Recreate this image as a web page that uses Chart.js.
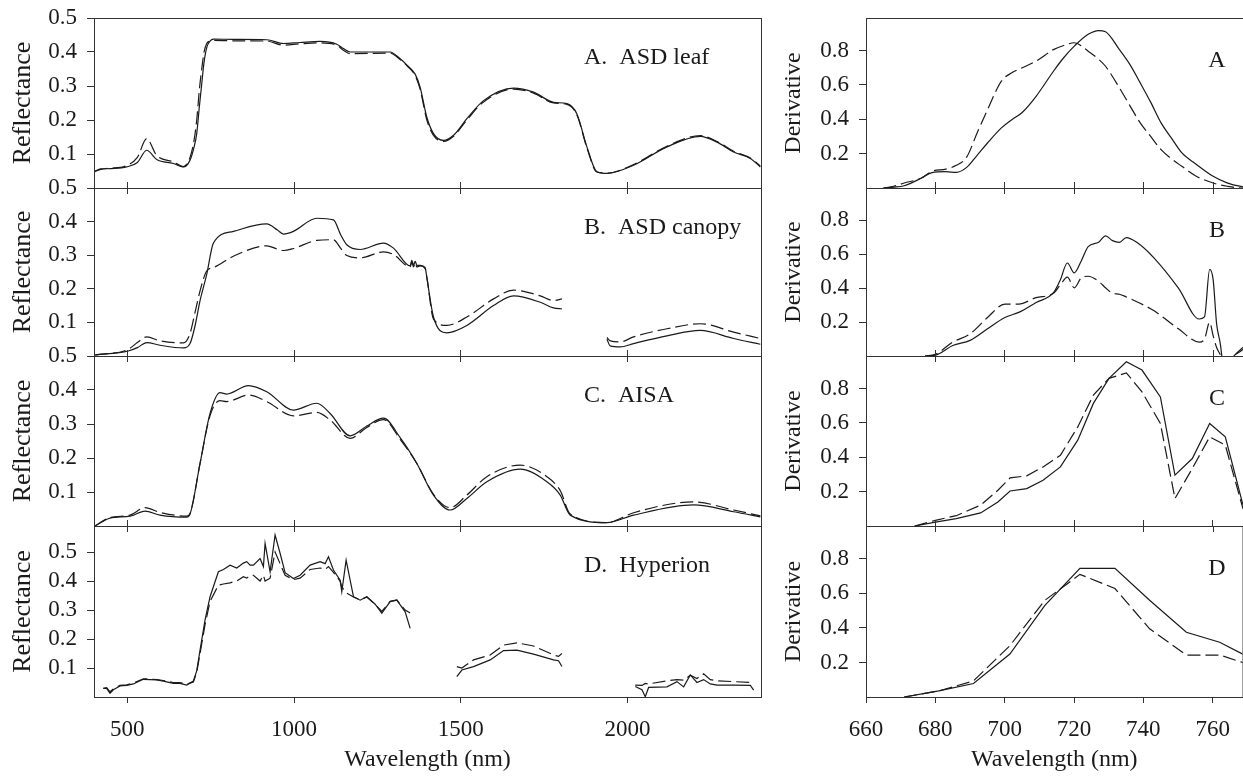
<!DOCTYPE html>
<html>
<head>
<meta charset="utf-8">
<title>Reflectance and red-edge derivative spectra</title>
<script src="https://cdn.jsdelivr.net/npm/chart.js@4.4.0/dist/chart.umd.min.js"></script>
<style>
    html, body { margin: 0; padding: 0; background: #fff; overflow: hidden; }
    #page { position: relative; width: 1243px; height: 776px; }
    #page canvas { position: absolute; }
</style>
</head>
<body>
<div id="page"></div>
<script>
// ---- left column: reflectance spectra (wavelength in nm) ----
const leafWl = [403, 420, 448, 498, 530, 558, 588, 638, 668, 688, 700, 708, 716, 723, 730, 738, 748, 758, 818, 918,
    968, 1018, 1078, 1128, 1148, 1168, 1288, 1318, 1340, 1363, 1378, 1398, 1418, 1448, 1478, 1518, 1568, 1658, 1718, 1778,
    1818, 1848, 1878, 1908, 1938, 2018, 2118, 2218, 2268, 2318, 2368, 2398];
const leafSolid = [0.048, 0.055, 0.057, 0.062, 0.075, 0.111, 0.084, 0.072, 0.062, 0.082, 0.12, 0.16, 0.24, 0.306, 0.37,
    0.413, 0.432, 0.438, 0.437, 0.436, 0.425, 0.428, 0.431, 0.423, 0.41, 0.40, 0.40, 0.38, 0.36, 0.335,
    0.296, 0.208, 0.16, 0.14, 0.155, 0.204, 0.257, 0.294, 0.282, 0.252, 0.248, 0.218, 0.121, 0.048, 0.043,
    0.067, 0.121, 0.152, 0.135, 0.106, 0.087, 0.062];
const leafDashed = [0.05, 0.056, 0.058, 0.066, 0.09, 0.145, 0.096, 0.077, 0.063, 0.09, 0.14, 0.2, 0.29, 0.35, 0.4,
    0.425, 0.432, 0.434, 0.433, 0.432, 0.42, 0.424, 0.427, 0.42, 0.405, 0.395, 0.397, 0.378, 0.358, 0.33,
    0.29, 0.2, 0.155, 0.137, 0.152, 0.2, 0.253, 0.291, 0.279, 0.25, 0.246, 0.215, 0.118, 0.047, 0.044,
    0.069, 0.123, 0.154, 0.137, 0.108, 0.088, 0.065];

const canopyWl = [403, 503, 530, 558, 598, 668, 688, 703, 718, 738, 758, 818, 918, 950, 968, 998, 1068, 1118, 1140, 1158,
    1198, 1268, 1298, 1348, 1353, 1358, 1363, 1368, 1378, 1393, 1398, 1418, 1458, 1518, 1598, 1658, 1738, 1778, 1803, 1870,
    1938, 1948, 1978, 2018, 2118, 2218, 2318, 2398];
const canopySolid = [0.003, 0.015, 0.025, 0.04, 0.032, 0.024, 0.037, 0.09, 0.165, 0.243, 0.336, 0.371, 0.393, 0.375, 0.363,
    0.371, 0.41, 0.405, 0.36, 0.331, 0.317, 0.336, 0.321, 0.268, 0.285, 0.27, 0.282, 0.27, 0.27, 0.263,
    0.233, 0.116, 0.069, 0.091, 0.15, 0.179, 0.16, 0.143, 0.14, null, 0.05, 0.03, 0.027, 0.037, 0.06,
    0.076, 0.052, 0.035];
const canopyDashed = [0.003, 0.02, 0.04, 0.057, 0.045, 0.039, 0.067, 0.13, 0.194, 0.253, 0.263, 0.297, 0.328, 0.318, 0.314,
    0.32, 0.344, 0.346, 0.32, 0.299, 0.292, 0.31, 0.302, 0.265, 0.28, 0.265, 0.278, 0.265, 0.268, 0.26,
    0.235, 0.11, 0.091, 0.116, 0.17, 0.196, 0.179, 0.165, 0.17, null, 0.055, 0.045, 0.042, 0.057, 0.081,
    0.096, 0.071, 0.052];

const aisaWl = [403, 448, 508, 553, 598, 678, 688, 718, 748, 778, 798, 863, 918, 998, 1068, 1108, 1168, 1218, 1268, 1318,
    1368, 1418, 1468, 1518, 1578, 1678, 1758, 1798, 1828, 1938, 2018, 2198, 2318, 2398];
const aisaSolid = [0, 0.023, 0.029, 0.044, 0.032, 0.026, 0.035, 0.184, 0.331, 0.392, 0.388, 0.413, 0.395, 0.341, 0.361,
    0.331, 0.265, 0.294, 0.317, 0.26, 0.184, 0.091, 0.047, 0.081, 0.13, 0.167, 0.13, 0.091, 0.032, 0.01,
    0.032, 0.062, 0.042, 0.027];
const aisaDashed = [0, 0.025, 0.032, 0.054, 0.04, 0.029, 0.037, 0.184, 0.325, 0.369, 0.366, 0.385, 0.366, 0.324, 0.334,
    0.312, 0.258, 0.29, 0.313, 0.255, 0.184, 0.093, 0.054, 0.091, 0.145, 0.179, 0.145, 0.104, 0.035, 0.01,
    0.039, 0.071, 0.047, 0.03];

const hypWl = [428, 438, 448, 458, 478, 498, 518, 548, 568, 588, 608, 638, 658, 678, 698, 708, 718, 733, 748, 773,
    788, 808, 828, 848, 858, 868, 878, 898, 908, 913, 928, 943, 958, 973, 998, 1018, 1048, 1078, 1093, 1103,
    1118, 1138, 1143, 1156, 1178, 1198, 1218, 1243, 1263, 1288, 1308, 1333, 1348, 1420,
    1488, 1503, 1538, 1588, 1628, 1668, 1718, 1778, 1793, 1803, 1900,
    2023, 2043, 2053, 2063, 2118, 2148, 2168, 2188, 2208, 2228, 2248, 2268, 2318, 2368, 2378];
const hypSolid = [0.03, 0.03, 0.013, 0.025, 0.038, 0.04, 0.045, 0.061, 0.06, 0.059, 0.055, 0.047, 0.047, 0.041, 0.055,
    0.09, 0.162, 0.266, 0.346, 0.432, 0.44, 0.455, 0.445, 0.462, 0.467, 0.455, 0.455, 0.478, 0.45, 0.53,
    0.432, 0.559, 0.496, 0.429, 0.409, 0.42, 0.455, 0.467, 0.46, 0.484, 0.438, 0.403, 0.363, 0.472, 0.346,
    0.334, 0.346, 0.32, 0.289, 0.329, 0.334, 0.294, 0.237, null,
    0.07, 0.093, 0.105, 0.128, 0.16, 0.162, 0.148, 0.128, 0.125, 0.105, null,
    0.036, 0.025, 0.001, 0.033, 0.035, 0.053, 0.035, 0.076, 0.05, 0.06, 0.045, 0.041, 0.041, 0.04, 0.024];
const hypDashed = [0.03, 0.032, 0.018, 0.028, 0.04, 0.042, 0.048, 0.063, 0.062, 0.06, 0.057, 0.05, 0.05, 0.044, 0.052,
    0.085, 0.15, 0.25, 0.33, 0.386, 0.39, 0.394, 0.40, 0.415, 0.41, 0.42, 0.42, 0.40, 0.42, 0.40,
    0.41, 0.50, 0.46, 0.42, 0.405, 0.41, 0.44, 0.445, 0.44, 0.45, 0.43, 0.40, 0.38, 0.36, 0.345,
    0.335, 0.345, 0.32, 0.295, 0.33, 0.335, 0.30, 0.29, null,
    0.105, 0.1, 0.128, 0.145, 0.179, 0.187, 0.176, 0.145, 0.14, 0.15, null,
    0.041, 0.04, 0.047, 0.045, 0.056, 0.06, 0.058, 0.075, 0.064, 0.08, 0.06, 0.056, 0.053, 0.05, 0.056];

// ---- right column: first derivative around the red edge ----
const edgeLeafWl = [665, 668, 671, 676, 679, 683, 686, 689, 692, 695, 699, 702, 705, 709, 714, 717, 720, 724, 727, 729,
    733, 736, 739, 742, 745, 748, 751, 755, 760, 764, 768, 770];
const edgeLeafSolid = [0, 0.005, 0.013, 0.058, 0.09, 0.095, 0.091, 0.12, 0.19, 0.262, 0.35, 0.398, 0.44, 0.534, 0.68,
    0.76, 0.826, 0.895, 0.917, 0.91, 0.806, 0.72, 0.612, 0.5, 0.379, 0.29, 0.204, 0.14, 0.068, 0.03, 0.009, 0.004];
const edgeLeafDashed = [0, 0.01, 0.029, 0.058, 0.097, 0.11, 0.132, 0.18, 0.32, 0.456, 0.622, 0.671, 0.7, 0.739, 0.806,
    0.83, 0.846, 0.797, 0.75, 0.709, 0.583, 0.48, 0.379, 0.3, 0.223, 0.17, 0.126, 0.07, 0.029, 0.01, 0, 0];

const edgeCanopyWl = [677, 680, 685, 690, 695, 700, 704, 709, 714, 716, 718, 720, 722, 724, 727, 729, 731, 733, 735, 738,
    743, 750, 756, 757.5, 759, 760, 761, 762, 763, 765, 766, 768, 770];
const edgeCanopySolid = [0, 0.005, 0.062, 0.092, 0.16, 0.227, 0.257, 0.315, 0.373, 0.45, 0.548, 0.49, 0.56, 0.645, 0.67,
    0.708, 0.68, 0.67, 0.698, 0.67, 0.577, 0.4, 0.218, 0.23, 0.51, 0.45, 0.189, 0.08, -0.05, -0.03, 0, 0.04, 0.07];
const edgeCanopyDashed = [0, 0.01, 0.082, 0.131, 0.227, 0.306, 0.306, 0.344, 0.37, 0.42, 0.465, 0.402, 0.46, 0.47, 0.44,
    0.402, 0.37, 0.364, 0.348, 0.32, 0.266, 0.16, 0.082, 0.1, 0.198, 0.12, 0.05, 0.01, -0.03, -0.03, 0, 0.03, 0.06];

const edgeAisaWl = [674, 680, 686, 693, 698, 701.5, 706.3, 711, 716, 721, 725.5, 730, 735, 739.5, 744.8, 749, 754, 759, 763.5, 768.6];
const edgeAisaSolid = [0, 0.023, 0.043, 0.076, 0.14, 0.204, 0.218, 0.266, 0.344, 0.5, 0.714, 0.86, 0.956, 0.908, 0.752,
    0.296, 0.393, 0.597, 0.519, 0.121];
const edgeAisaDashed = [0, 0.033, 0.06, 0.121, 0.208, 0.28, 0.292, 0.344, 0.412, 0.577, 0.762, 0.86, 0.892, 0.781, 0.597,
    0.16, 0.335, 0.519, 0.471, 0.1];

const edgeHypWl = [671, 681, 691, 701.5, 711.6, 721.7, 731.8, 741.8, 752.4, 762, 772];
const edgeHypSolid = [0, 0.035, 0.078, 0.249, 0.531, 0.745, 0.745, 0.56, 0.375, 0.317, 0.214];
const edgeHypDashed = [0, 0.035, 0.093, 0.297, 0.56, 0.71, 0.628, 0.395, 0.243, 0.243, 0.178];

// ticks
const wlTicks = [500, 1000, 1500, 2000];
const edgeTicks = [660, 680, 700, 720, 740, 760];
const reflTicks = [0.1, 0.2, 0.3, 0.4, 0.5];
const derivTicks = [0.2, 0.4, 0.6, 0.8];

const FONT = '"Liberation Serif", "Times New Roman", serif';
const INK = '#1a1a1a';
const AXIS = '#333';

const panelTops = [18, 188, 356, 526];
const panelBottoms = [188, 356, 526, 697];

function pts(xs, ys) {
    return xs.map((x, i) => ({ x: x, y: ys[i] }));
}

// frame around the plot area + the panel letter
const panelDecor = {
    id: 'panelDecor',
    afterDraw(chart, args, opts) {
        const ctx = chart.ctx;
        const a = chart.chartArea;
        ctx.save();
        ctx.strokeStyle = AXIS;
        ctx.lineWidth = 1;
        ctx.strokeRect(a.left + 0.5, a.top + 0.5, a.right - a.left, a.bottom - a.top);
        ctx.fillStyle = INK;
        ctx.font = '24px ' + FONT;
        ctx.textAlign = opts.align;
        ctx.textBaseline = 'middle';
        ctx.fillText(opts.text, a.left + opts.dx, a.top + opts.dy);
        ctx.restore();
    }
};

function makePanel(col, row, p) {
    const left = col === 0;
    const last = row === 3;
    const padT = 26;
    const padB = last ? 0 : 26;
    const axisH = last ? 80 : 0;
    const height = panelBottoms[row] - panelTops[row] + padT + padB + axisH;
    const width = left ? 770 : 473;

    const canvas = document.createElement('canvas');
    canvas.width = width;
    canvas.height = height;
    canvas.style.left = (left ? 0 : 770) + 'px';
    canvas.style.top = (panelTops[row] - padT) + 'px';
    canvas.style.width = width + 'px';
    canvas.style.height = height + 'px';
    document.getElementById('page').appendChild(canvas);

    const xTicks = left ? wlTicks : edgeTicks;
    const xBase = {
        type: 'linear',
        min: left ? 400 : 660,
        max: left ? 2400 : 768.6,
        afterBuildTicks: s => { s.ticks = xTicks.map(v => ({ value: v })); },
        grid: { drawOnChartArea: false, drawTicks: true, tickLength: 6, color: AXIS },
        border: { display: false }
    };
    const scales = {
        x: Object.assign({}, xBase, {
            position: 'bottom',
            afterFit: s => { s.height = axisH; },
            ticks: { display: last, font: { family: FONT, size: 23 }, color: INK, padding: 13, maxRotation: 0,
                callback: v => String(v) },
            title: { display: last, text: 'Wavelength (nm)', font: { family: FONT, size: 24 }, color: INK,
                padding: { top: 0, bottom: 3 } }
        }),
        y: {
            min: 0,
            max: p.yMax,
            afterBuildTicks: s => { s.ticks = p.yTicks.map(v => ({ value: v })); },
            afterFit: s => { s.width = left ? 94 : 96; },
            ticks: { font: { family: FONT, size: 23 }, color: INK, padding: 10, callback: v => v.toFixed(1) },
            grid: { drawOnChartArea: false, drawTicks: true, tickLength: 7, color: AXIS },
            border: { display: false },
            title: { display: true, text: left ? 'Reflectance' : 'Derivative', font: { family: FONT, size: left ? 26 : 24 },
                color: INK, padding: { top: left ? 8 : 9, bottom: 0 } }
        }
    };
    if (row > 0) {
        scales.xTop = Object.assign({}, xBase, {
            position: 'top',
            axis: 'x',
            afterFit: s => { s.height = 0; },
            ticks: { display: false }
        });
    }

    const line = {
        borderColor: INK,
        borderWidth: 1.2,
        pointRadius: 0,
        fill: false,
        spanGaps: false,
        cubicInterpolationMode: p.smooth ? 'monotone' : 'default'
    };

    return new Chart(canvas.getContext('2d'), {
        type: 'line',
        data: {
            datasets: [
                Object.assign({ data: pts(p.wl, p.solid) }, line),
                Object.assign({ data: pts(p.wl, p.dashed), borderDash: [13, 5] }, line)
            ]
        },
        options: {
            responsive: false,
            animation: false,
            devicePixelRatio: 1,
            layout: { padding: { top: padT, bottom: padB, left: 0, right: left ? 9 : 0 } },
            scales: scales,
            plugins: {
                legend: { display: false },
                tooltip: { enabled: false },
                panelDecor: left
                    ? { text: p.label, align: 'left', dx: 490, dy: 40 }
                    : { text: p.label, align: 'center', dx: 351, dy: 43 }
            }
        },
        plugins: [panelDecor]
    });
}

makePanel(0, 0, { wl: leafWl, solid: leafSolid, dashed: leafDashed, yMax: 0.5, yTicks: reflTicks, smooth: true, label: 'A.  ASD leaf' });
makePanel(0, 1, { wl: canopyWl, solid: canopySolid, dashed: canopyDashed, yMax: 0.5, yTicks: reflTicks, smooth: true, label: 'B.  ASD canopy' });
makePanel(0, 2, { wl: aisaWl, solid: aisaSolid, dashed: aisaDashed, yMax: 0.5, yTicks: reflTicks, smooth: true, label: 'C.  AISA' });
makePanel(0, 3, { wl: hypWl, solid: hypSolid, dashed: hypDashed, yMax: 0.59, yTicks: reflTicks, smooth: false, label: 'D.  Hyperion' });

makePanel(1, 0, { wl: edgeLeafWl, solid: edgeLeafSolid, dashed: edgeLeafDashed, yMax: 0.99, yTicks: derivTicks, smooth: true, label: 'A' });
makePanel(1, 1, { wl: edgeCanopyWl, solid: edgeCanopySolid, dashed: edgeCanopyDashed, yMax: 0.99, yTicks: derivTicks, smooth: true, label: 'B' });
makePanel(1, 2, { wl: edgeAisaWl, solid: edgeAisaSolid, dashed: edgeAisaDashed, yMax: 0.99, yTicks: derivTicks, smooth: false, label: 'C' });
makePanel(1, 3, { wl: edgeHypWl, solid: edgeHypSolid, dashed: edgeHypDashed, yMax: 0.99, yTicks: derivTicks, smooth: false, label: 'D' });
</script>
</body>
</html>
